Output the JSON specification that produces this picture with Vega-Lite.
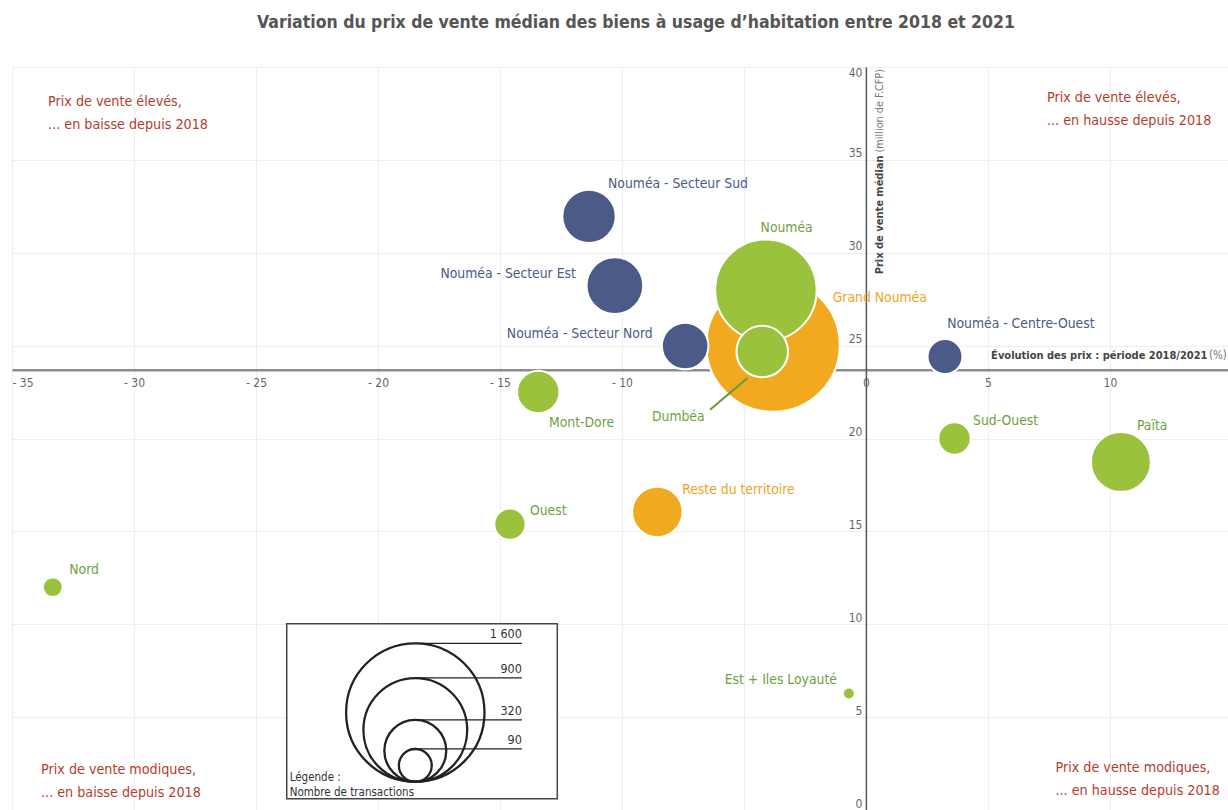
{
  "$schema": "https://vega.github.io/schema/vega-lite/v6.json",
  "width": 1216,
  "height": 743,
  "autosize": {"type": "none"},
  "padding": {"left": 12, "top": 67, "right": 0, "bottom": 0},
  "background": "white",
  "title": {
    "text": "Variation du prix de vente médian des biens à usage d’habitation entre 2018 et 2021",
    "anchor": "middle",
    "font": "DejaVu Sans Condensed, Liberation Sans Narrow, Roboto, sans-serif",
    "fontSize": 17.5,
    "fontWeight": "bold",
    "color": "#555555",
    "offset": 35,
    "dx": 16
  },
  "config": {
    "view": {"stroke": null},
    "axis": {
      "labelFont": "DejaVu Sans Condensed, Liberation Sans Narrow, Roboto, sans-serif",
      "labelFontSize": 12,
      "labelColor": "#666666",
      "ticks": false,
      "grid": true,
      "gridColor": "#eeeeee",
      "gridWidth": 1,
      "title": null
    },
    "text": {"font": "DejaVu Sans Condensed, Liberation Sans Narrow, Roboto, sans-serif"}
  },
  "resolve": {"scale": {"color": "independent"}},
  "encoding": {
    "x": {
      "field": "x",
      "type": "quantitative",
      "scale": {"domain": [-35, 14.84], "nice": false, "zero": false},
      "axis": {
        "values": [-35, -30, -25, -20, -15, -10, -5, 0, 5, 10],
        "offset": -440.2,
        "domainColor": "#8c8c8c",
        "domainWidth": 2.5,
        "labelPadding": 8,
        "labelExpr": "datum.value < 0 ? '- ' + (-datum.value) : '' + datum.value"
      }
    },
    "y": {
      "field": "y",
      "type": "quantitative",
      "scale": {"domain": [0, 40], "nice": false, "zero": true},
      "axis": {
        "values": [0, 5, 10, 15, 20, 25, 30, 35, 40],
        "offset": -853.9,
        "domainColor": "#555555",
        "domainWidth": 1.5,
        "labelPadding": 4,
        "labelBaseline": {"condition": {"test": "datum.value === 40", "value": "top"}, "value": "bottom"}
      }
    }
  },
  "layer": [
    {
      "data": {"values": [
        {"texte": ["Prix de vente élevés,", "... en baisse depuis 2018"], "x": -33.52, "y": 37.92},
        {"texte": ["Prix de vente élevés,", "... en hausse depuis 2018"], "x": 7.42, "y": 38.13},
        {"texte": ["Prix de vente modiques,", "... en baisse depuis 2018"], "x": -33.81, "y": 1.95},
        {"texte": ["Prix de vente modiques,", "... en hausse depuis 2018"], "x": 7.77, "y": 2.06}
      ]},
      "mark": {"type": "text", "align": "left", "baseline": "alphabetic", "fontSize": 14.2, "lineHeight": 23, "color": "#b43d2e"},
      "encoding": {"text": {"field": "texte"}}
    },
    {
      "data": {"values": [
        {"nom": "Grand Nouméa", "groupe": "Ensemble", "x": -3.81, "y": 25.03, "transactions": 1490},
        {"nom": "Nouméa", "groupe": "Commune / zone", "x": -4.10, "y": 27.98, "transactions": 860},
        {"nom": "Païta", "groupe": "Commune / zone", "x": 10.45, "y": 18.74, "transactions": 300},
        {"nom": "Nouméa - Secteur Est", "groupe": "Secteur de Nouméa", "x": -10.29, "y": 28.23, "transactions": 268},
        {"nom": "Nouméa - Secteur Sud", "groupe": "Secteur de Nouméa", "x": -11.35, "y": 31.96, "transactions": 238},
        {"nom": "Dumbéa", "groupe": "Commune / zone", "x": -4.25, "y": 24.68, "transactions": 222},
        {"nom": "Reste du territoire", "groupe": "Ensemble", "x": -8.55, "y": 16.05, "transactions": 212},
        {"nom": "Nouméa - Secteur Nord", "groupe": "Secteur de Nouméa", "x": -7.41, "y": 24.98, "transactions": 181},
        {"nom": "Mont-Dore", "groupe": "Commune / zone", "x": -13.43, "y": 22.5, "transactions": 150},
        {"nom": "Nouméa - Centre-Ouest", "groupe": "Secteur de Nouméa", "x": 3.24, "y": 24.41, "transactions": 102},
        {"nom": "Sud-Ouest", "groupe": "Commune / zone", "x": 3.63, "y": 20.0, "transactions": 88},
        {"nom": "Ouest", "groupe": "Commune / zone", "x": -14.59, "y": 15.39, "transactions": 82},
        {"nom": "Nord", "groupe": "Commune / zone", "x": -33.33, "y": 12.0, "transactions": 33},
        {"nom": "Est + Iles Loyauté", "groupe": "Commune / zone", "x": -0.70, "y": 6.27, "transactions": 12}
      ]},
      "mark": {"type": "circle", "opacity": 1, "stroke": "white", "strokeWidth": 2},
      "encoding": {
        "color": {"field": "groupe", "type": "nominal", "scale": {"domain": ["Secteur de Nouméa", "Commune / zone", "Ensemble"], "range": ["#4b5a87", "#9bc23d", "#f1aa1f"]}, "legend": null},
        "size": {"field": "transactions", "type": "quantitative", "scale": {"type": "linear", "domain": [0, 1600], "range": [0, 19155], "zero": true}, "legend": null},
        "order": {"field": "transactions", "sort": "descending"}
      }
    },
    {
      "data": {"values": [{"x": -4.86, "y": 23.25, "x2": -6.39, "y2": 21.55}]},
      "mark": {"type": "rule", "color": "#6a9a3a", "strokeWidth": 2},
      "encoding": {"x2": {"field": "x2"}, "y2": {"field": "y2"}}
    },
    {
      "data": {"name": "etiquettes", "values": [
        {"nom": "Grand Nouméa", "groupe": "Ensemble", "x": -1.36, "y": 27.57},
        {"nom": "Nouméa", "groupe": "Commune / zone", "x": -3.25, "y": 31.32},
        {"nom": "Païta", "groupe": "Commune / zone", "x": 11.11, "y": 20.69},
        {"nom": "Nouméa - Secteur Est", "groupe": "Secteur de Nouméa", "x": -11.89, "y": 28.87},
        {"nom": "Nouméa - Secteur Sud", "groupe": "Secteur de Nouméa", "x": -10.57, "y": 33.69},
        {"nom": "Dumbéa", "groupe": "Commune / zone", "x": -8.77, "y": 21.16},
        {"nom": "Reste du territoire", "groupe": "Ensemble", "x": -7.53, "y": 17.23},
        {"nom": "Nouméa - Secteur Nord", "groupe": "Secteur de Nouméa", "x": -8.74, "y": 25.62},
        {"nom": "Mont-Dore", "groupe": "Commune / zone", "x": -12.99, "y": 20.84},
        {"nom": "Nouméa - Centre-Ouest", "groupe": "Secteur de Nouméa", "x": 3.33, "y": 26.15},
        {"nom": "Sud-Ouest", "groupe": "Commune / zone", "x": 4.39, "y": 20.96},
        {"nom": "Ouest", "groupe": "Commune / zone", "x": -13.77, "y": 16.12},
        {"nom": "Nord", "groupe": "Commune / zone", "x": -32.65, "y": 12.91},
        {"nom": "Est + Iles Loyauté", "groupe": "Commune / zone", "x": -1.19, "y": 7.02}
      ]},
      "layer": [
        {
          "transform": [{"filter": "indexof(['Nouméa - Secteur Est', 'Nouméa - Secteur Nord', 'Est + Iles Loyauté', 'Nouméa'], datum.nom) < 0"}],
          "mark": {"type": "text", "align": "left", "baseline": "middle", "fontSize": 13.8},
          "encoding": {
            "text": {"field": "nom"},
            "color": {"field": "groupe", "type": "nominal", "scale": {"domain": ["Secteur de Nouméa", "Commune / zone", "Ensemble"], "range": ["#4b5a87", "#6f9f3f", "#f0a21e"]}, "legend": null}
          }
        },
        {
          "transform": [{"filter": "indexof(['Nouméa - Secteur Est', 'Nouméa - Secteur Nord', 'Est + Iles Loyauté'], datum.nom) >= 0"}],
          "mark": {"type": "text", "align": "right", "baseline": "middle", "fontSize": 13.8},
          "encoding": {
            "text": {"field": "nom"},
            "color": {"field": "groupe", "type": "nominal", "scale": {"domain": ["Secteur de Nouméa", "Commune / zone", "Ensemble"], "range": ["#4b5a87", "#6f9f3f", "#f0a21e"]}, "legend": null}
          }
        },
        {
          "transform": [{"filter": "datum.nom === 'Nouméa'"}],
          "mark": {"type": "text", "align": "center", "baseline": "middle", "fontSize": 13.8},
          "encoding": {
            "text": {"field": "nom"},
            "color": {"field": "groupe", "type": "nominal", "scale": {"domain": ["Secteur de Nouméa", "Commune / zone", "Ensemble"], "range": ["#4b5a87", "#6f9f3f", "#f0a21e"]}, "legend": null}
          }
        }
      ]
    },
    {
      "data": {"values": [{"texte": "Évolution des prix : période 2018/2021", "x": 14.0, "y": 24.42}]},
      "mark": {"type": "text", "align": "right", "baseline": "middle", "fontSize": 11, "fontWeight": "bold", "color": "#444444"},
      "encoding": {"text": {"field": "texte"}}
    },
    {
      "data": {"values": [{"texte": "(%)", "x": 14.06, "y": 24.42}]},
      "mark": {"type": "text", "align": "left", "baseline": "middle", "fontSize": 11.5, "color": "#777777"},
      "encoding": {"text": {"field": "texte"}}
    },
    {
      "data": {"values": [{"texte": "Prix de vente médian", "x": 0.57, "y": 35.24}]},
      "mark": {"type": "text", "align": "right", "baseline": "middle", "angle": 270, "fontSize": 11, "fontWeight": "bold", "color": "#444444"},
      "encoding": {"text": {"field": "texte"}}
    },
    {
      "data": {"values": [{"texte": "(million de F.CFP)", "x": 0.57, "y": 35.24}]},
      "mark": {"type": "text", "align": "left", "baseline": "middle", "angle": 270, "dx": 3, "fontSize": 10.8, "color": "#777777"},
      "encoding": {"text": {"field": "texte"}}
    },
    {
      "data": {"values": [{"x": -23.74, "x2": -12.65, "y": 10.03, "y2": 0.61}]},
      "mark": {"type": "rect", "fill": "white", "stroke": "#444444", "strokeWidth": 1.5},
      "encoding": {"x2": {"field": "x2"}, "y2": {"field": "y2"}}
    },
    {
      "data": {"values": [
        {"transactions": 1600, "x": -18.47, "y": 5.25},
        {"transactions": 900, "x": -18.47, "y": 4.31},
        {"transactions": 320, "x": -18.47, "y": 3.19},
        {"transactions": 90, "x": -18.47, "y": 2.40}
      ]},
      "mark": {"type": "point", "shape": "circle", "filled": false, "color": "#222222", "strokeWidth": 2.3, "opacity": 1},
      "encoding": {
        "size": {"field": "transactions", "type": "quantitative", "legend": null}
      }
    },
    {
      "data": {"values": [
        {"x": -18.47, "x2": -14.10, "y": 8.97},
        {"x": -18.47, "x2": -14.10, "y": 7.11},
        {"x": -18.47, "x2": -14.10, "y": 4.85},
        {"x": -18.47, "x2": -14.10, "y": 3.29}
      ]},
      "mark": {"type": "rule", "color": "#222222", "strokeWidth": 1.2},
      "encoding": {"x2": {"field": "x2"}}
    },
    {
      "data": {"values": [
        {"libelle": "1 600", "x": -14.10, "y": 8.97},
        {"libelle": "900", "x": -14.10, "y": 7.11},
        {"libelle": "320", "x": -14.10, "y": 4.85},
        {"libelle": "90", "x": -14.10, "y": 3.29}
      ]},
      "mark": {"type": "text", "align": "right", "baseline": "bottom", "dy": -2, "fontSize": 12.5, "color": "#333333"},
      "encoding": {"text": {"field": "libelle"}}
    },
    {
      "data": {"values": [{"texte": ["Légende :", "Nombre de transactions"], "x": -23.62, "y": 1.55}]},
      "mark": {"type": "text", "align": "left", "baseline": "alphabetic", "fontSize": 11.5, "lineHeight": 15, "color": "#333333"},
      "encoding": {"text": {"field": "texte"}}
    }
  ]
}
